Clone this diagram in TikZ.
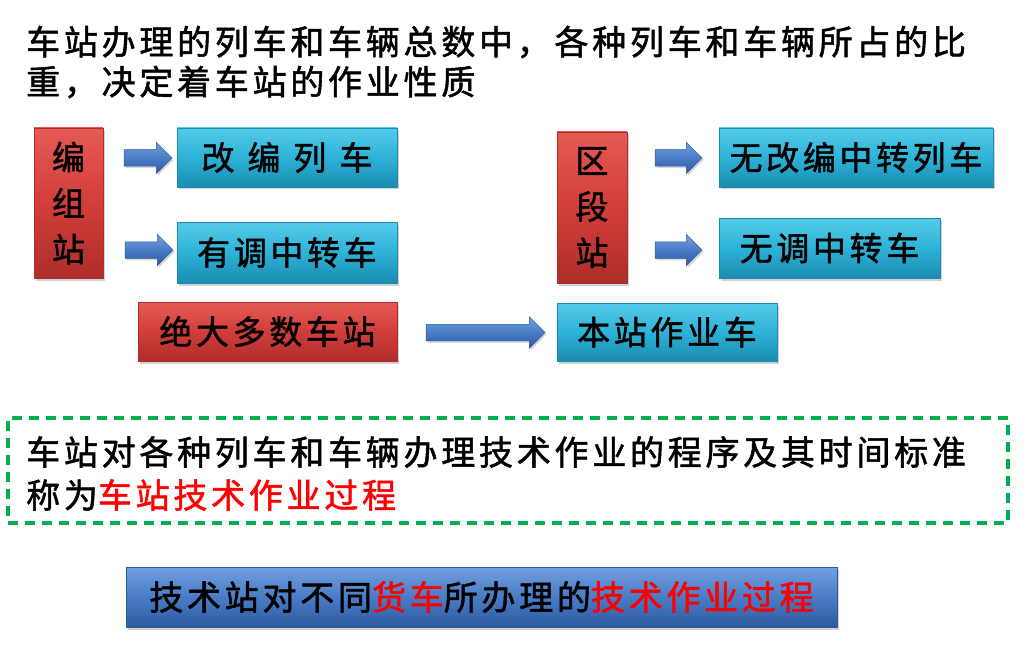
\documentclass[tikz,border=0pt]{standalone}
\usepackage{fontspec}
\newfontfamily\cjk[LetterSpace=11,FakeBold=1.5]{Noto Sans CJK SC}
\usetikzlibrary{shapes.arrows,shadows}
\definecolor{cyanT}{HTML}{55CBE8}
\definecolor{cyanM}{HTML}{2DB2D8}
\definecolor{cyanB}{HTML}{1B8BB0}
\definecolor{redT}{HTML}{E55A55}
\definecolor{redM}{HTML}{D23E3A}
\definecolor{redB}{HTML}{AE2D2A}
\definecolor{bluT}{HTML}{6FA0E0}
\definecolor{bluM}{HTML}{4A7CC6}
\definecolor{bluB}{HTML}{2C5A9E}
\definecolor{dashgreen}{HTML}{00B050}
\definecolor{hired}{HTML}{FF0000}
\tikzset{
  x=1pt,y=1pt,
  boxbase/.style={rectangle,inner sep=0pt,font=\cjk\fontsize{33}{46}\selectfont,
    drop shadow={opacity=0.35,shadow xshift=2pt,shadow yshift=-2.5pt}},
  cyanbox/.style={boxbase,draw=cyanB,line width=0.6pt,top color=cyanT,bottom color=cyanB,middle color=cyanM},
  redbox/.style={boxbase,draw=redB,line width=0.6pt,top color=redT,bottom color=redB,middle color=redM},
  bluebox/.style={boxbase,draw=bluB,line width=0.6pt,top color=bluT,bottom color=bluB,middle color=bluM},
  blockarrow/.style={single arrow,inner sep=0pt,draw=bluB,line width=0.5pt,
    text height=8pt,text depth=8pt,
    top color=bluT,bottom color=bluB,middle color=bluM,
    single arrow head extend=7.5pt,single arrow tip angle=90,
    drop shadow={opacity=0.3,shadow xshift=1.5pt,shadow yshift=-2pt}},
  plaintext/.style={inner sep=0pt,anchor=west,font=\cjk\fontsize{34}{40}\selectfont},
}
\begin{document}
\begin{tikzpicture}
\useasboundingbox (0,0) rectangle (1030,-655);
\fill[white] (0,0) rectangle (1030,-655);

% title
\node[plaintext] (t1) at (26,-42) {车站办理的列车和车辆总数中，各种列车和车辆所占的比};
\node[plaintext] (t2) at (26,-82) {重，决定着车站的作业性质};

% left group
\node[redbox,minimum width=69pt,minimum height=150pt,align=center] (bz) at (68.5,-203) {编\\组\\站};
\node[cyanbox,minimum width=220pt,minimum height=59pt] (gb) at (287,-157.5) {改\hspace{13pt}编\hspace{13pt}列\hspace{13pt}车};
\node[cyanbox,minimum width=220pt,minimum height=61pt] (yd) at (287,-252.5) {有调中转车};
\node[redbox,minimum width=259pt,minimum height=59pt] (jd) at (267.5,-331.5) {绝大多数车站};

\node[blockarrow,minimum height=48pt] (a1) at (144,-158) {};
\node[blockarrow,minimum height=48pt] (a2) at (145,-250) {};

% right group
\node[redbox,minimum width=70pt,minimum height=151pt,align=center] (qd) at (592,-207.5) {区\\段\\站};
\node[cyanbox,minimum width=274pt,minimum height=59pt] (wg) at (856,-157.5) {无改编中转列车};
\node[cyanbox,minimum width=221pt,minimum height=60pt] (wt) at (829.5,-248) {无调中转车};
\node[cyanbox,minimum width=220pt,minimum height=58pt] (bs) at (667,-332) {本站作业车};

\node[blockarrow,minimum height=47pt] (a3) at (674.5,-158) {};
\node[blockarrow,minimum height=47pt] (a4) at (674.5,-250) {};
\node[blockarrow,minimum height=119pt] (a5) at (481.5,-332.5) {};

% dashed box
\node[draw=dashgreen,line width=4pt,dash pattern=on 10pt off 7pt,rectangle,
  minimum width=1000pt,minimum height=105pt,inner sep=0pt] (db) at (508,-470.5) {};
\node[plaintext] (d1) at (26,-452) {车站对各种列车和车辆办理技术作业的程序及其时间标准};
\node[plaintext] (d2) at (26,-495) {称为{\color{hired}车站技术作业过程}};

% bottom box
\node[bluebox,minimum width=711pt,minimum height=60pt,font=\cjk\fontsize{34}{40}\selectfont] (bb) at (481.5,-597)
  {技术站对不同{\color{hired}货车}所办理的{\color{hired}技术作业过程}};
\end{tikzpicture}
\end{document}
